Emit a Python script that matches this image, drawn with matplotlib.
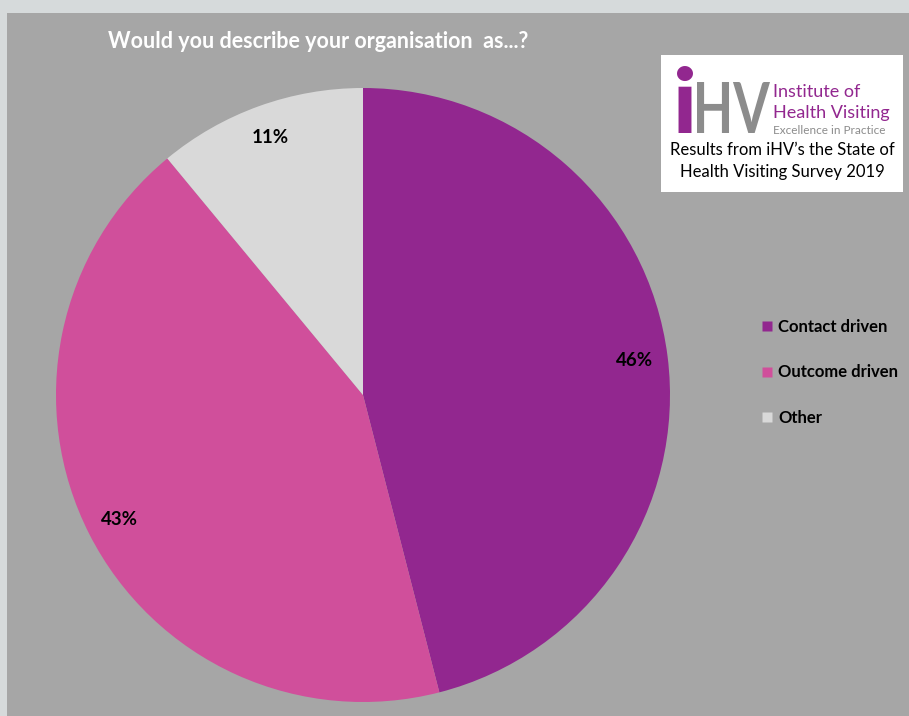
import matplotlib
matplotlib.use("Agg")
import matplotlib.pyplot as plt
from matplotlib.patches import Rectangle, PathPatch
from matplotlib.lines import Line2D
from matplotlib.textpath import TextPath
from matplotlib.font_manager import FontProperties
from matplotlib.transforms import Affine2D, IdentityTransform

categories = ["Contact driven", "Outcome driven", "Other"]
values = [46, 43, 11]
labels_pct = ["46%", "43%", "11%"]
colors = ["#92278f", "#d04f9b", "#d9d9d9"]

W, H = 909, 716
fig = plt.figure(figsize=(W / 100, H / 100), dpi=100, facecolor="#d6dadb")
plt.rcParams['font.family'] = ['Lato', 'DejaVu Sans']

def fx(x):
    return x / W

def fy(y):
    return 1 - y / H

# gray background panel
fig.patches.append(Rectangle((fx(7), 0), 1 - fx(7), fy(13), transform=fig.transFigure,
                             facecolor="#a6a6a6", edgecolor="none", zorder=-10))

# pie axes
cx, cy, r = 363, 395, 307
ax = fig.add_axes([fx(cx - r), fy(cy + r), 2 * r / W, 2 * r / H])
ax.set_zorder(1)
ax.set_facecolor("none")
wedges, texts = ax.pie(values, colors=colors, startangle=90, counterclock=False,
                       labels=labels_pct, labeldistance=0.89,
                       textprops=dict(fontsize=13.5, fontweight="bold", color="black",
                                      ha="center", va="center"),
                       wedgeprops=dict(linewidth=0))
ax.set_xlim(-1, 1)
ax.set_ylim(-1, 1)
ax.set_aspect("equal")
ax.axis("off")

# title
fig.text(fx(108), fy(41), "Would you describe your organisation  as...?", color="white",
         fontsize=15.5, fontweight="bold", ha="left", va="center")

# legend
handles = [Line2D([0], [0], marker="s", linestyle="none", markersize=7.5,
                  markerfacecolor=c, markeredgecolor="none") for c in colors]
leg = fig.legend(handles, categories, loc="upper left",
                 bbox_to_anchor=(fx(755), fy(312)), frameon=False,
                 handlelength=0.6, handletextpad=0.4, labelspacing=1.78,
                 prop=dict(size=12, weight="bold"), borderaxespad=0)

# logo box
fig.patches.append(Rectangle((fx(661), fy(192)), fx(903 - 661), (192 - 55) / H,
                             transform=fig.transFigure, facecolor="white",
                             edgecolor="none", zorder=1))

def logo_glyph(s, x0, x1, ytop, ybot, color, weight="bold"):
    tp = TextPath((0, 0), s, size=1, prop=FontProperties(family="Lato", weight=weight))
    bb = tp.get_extents()
    sx = (x1 - x0) / bb.width
    sy = (ybot - ytop) / bb.height
    tr = Affine2D().translate(-bb.x0, -bb.y0).scale(sx, sy).translate(x0, H - ybot)
    fig.patches.append(PathPatch(tr.transform_path(tp), transform=IdentityTransform(),
                                 facecolor=color, edgecolor="none", zorder=2))

logo_glyph("i", 677, 693, 66, 133, "#92278f", weight="black")
logo_glyph("HV", 697, 770, 82, 133, "#8c8c8c", weight="bold")

fig.text(fx(773), fy(92), "Institute of", color="#92278f", fontsize=13,
         ha="left", va="center", zorder=2)
fig.text(fx(773), fy(113), "Health Visiting", color="#92278f", fontsize=13,
         ha="left", va="center", zorder=2)
fig.text(fx(773), fy(131), "Excellence in Practice", color="#8c8c8c", fontsize=8.5,
         ha="left", va="center", zorder=2)
fig.text(fx(782), fy(150), "Results from iHV\u2019s the State of", color="black",
         fontsize=12, ha="center", va="center", zorder=2)
fig.text(fx(782), fy(172), "Health Visiting Survey 2019", color="black",
         fontsize=12, ha="center", va="center", zorder=2)

fig.savefig("out.png", dpi=100, facecolor=fig.get_facecolor())
